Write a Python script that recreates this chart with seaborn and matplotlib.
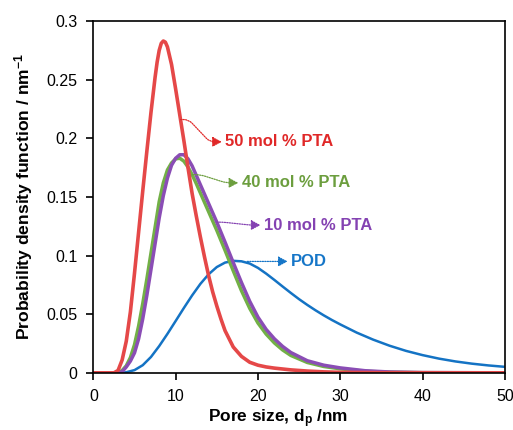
import matplotlib
matplotlib.use("Agg")
import matplotlib.pyplot as plt
import pandas as pd
import seaborn as sns

# Pore-size distributions (pore diameter in nm, probability density in nm^-1)
x_pod = [0, 3.5, 4.0, 5.0, 6.0, 7.0, 8.0, 9.0, 10.0, 11.0, 12.0, 13.0, 14.0, 15.0,
         16.0, 17.0, 18.0, 19.0, 20.0, 21.0, 22.0, 23.0, 24.0, 25.0, 26.0, 27.0,
         28.0, 29.0, 30.0, 32.0, 34.0, 36.0, 38.0, 40.0, 42.0, 44.0, 46.0, 48.0, 50.0]
pdf_pod = [0, 0, 0.0005, 0.0023, 0.0065, 0.0135, 0.0228, 0.0332, 0.0442, 0.0553,
           0.0660, 0.0758, 0.0840, 0.0902, 0.0940, 0.0955, 0.0951, 0.0932, 0.0895,
           0.0846, 0.0792, 0.0736, 0.0681, 0.0628, 0.0579, 0.0533, 0.0490, 0.0450,
           0.0413, 0.0343, 0.0283, 0.0231, 0.0187, 0.0151, 0.0121, 0.0097, 0.0078,
           0.0063, 0.0051]

x_pta40 = [0, 3.0, 3.5, 4.0, 4.5, 5.0, 5.5, 6.0, 6.5, 7.0, 7.5, 8.0, 8.5, 9.0, 9.5,
           10.0, 10.5, 11.0, 11.5, 12.0, 12.5, 13.0, 13.5, 14.0, 15.0, 16.0, 17.0,
           18.0, 19.0, 20.0, 21.0, 22.0, 23.0, 24.0, 26.0, 28.0, 30.0, 33.0, 36.0,
           40.0, 50.0]
pdf_pta40 = [0, 0, 0.002, 0.006, 0.013, 0.024, 0.040, 0.059, 0.080, 0.102, 0.124,
             0.146, 0.162, 0.173, 0.179, 0.1825, 0.183, 0.1805, 0.1755, 0.1690,
             0.1615, 0.1535, 0.1455, 0.1375, 0.1215, 0.1045, 0.0870, 0.0700, 0.0550,
             0.0425, 0.0330, 0.0255, 0.0195, 0.0148, 0.0088, 0.0054, 0.0034, 0.0013,
             0.0005, 0.0001, 0]

x_pta10 = [0, 3.0, 3.5, 4.0, 4.5, 5.0, 5.5, 6.0, 6.5, 7.0, 7.5, 8.0, 8.5, 9.0, 9.5,
           10.0, 10.5, 11.0, 11.5, 12.0, 12.5, 13.0, 13.5, 14.0, 15.0, 16.0, 17.0,
           18.0, 19.0, 20.0, 21.0, 22.0, 23.0, 24.0, 26.0, 28.0, 30.0, 33.0, 36.0,
           40.0, 50.0]
pdf_pta10 = [0, 0, 0.001, 0.005, 0.010, 0.017, 0.029, 0.046, 0.066, 0.088, 0.110,
             0.132, 0.151, 0.166, 0.177, 0.183, 0.186, 0.186, 0.1825, 0.1765,
             0.1685, 0.1605, 0.1525, 0.1445, 0.1285, 0.1115, 0.0940, 0.0770, 0.0610,
             0.0475, 0.0370, 0.0290, 0.0225, 0.0173, 0.0103, 0.0065, 0.0042, 0.0018,
             0.0007, 0.0002, 0]

x_pta50 = [0, 2.5, 3.0, 3.5, 4.0, 4.5, 5.0, 5.5, 6.0, 6.5, 7.0, 7.5, 7.75, 8.0, 8.25,
           8.5, 8.75, 9.0, 9.5, 10.0, 10.5, 11.0, 11.5, 12.0, 12.5, 13.0, 13.5, 14.0,
           14.5, 15.0, 15.5, 16.0, 16.5, 17.0, 18.0, 19.0, 20.0, 21.0, 22.0, 24.0,
           26.0, 28.0, 30.0, 35.0, 50.0]
pdf_pta50 = [0, 0, 0.002, 0.011, 0.027, 0.052, 0.085, 0.120, 0.155, 0.189, 0.222,
             0.252, 0.265, 0.275, 0.281, 0.283, 0.282, 0.278, 0.263, 0.242, 0.220,
             0.198, 0.175, 0.153, 0.134, 0.116, 0.099, 0.083, 0.069, 0.057, 0.046,
             0.036, 0.029, 0.022, 0.014, 0.009, 0.0065, 0.005, 0.004, 0.0025, 0.0015,
             0.0008, 0.0004, 0.0001, 0]

series_names = ["POD", "40 mol % PTA", "10 mol % PTA", "50 mol % PTA"]
line_colors = ["#1473C4", "#72B046", "#8A4DB5", "#E54848"]
text_colors = ["#1676C8", "#6C9E3E", "#8442B2", "#E02828"]
line_widths = [1.8, 2.5, 2.5, 2.6]

# Label placement: (curve point where the leader starts, arrow tip)
leader_start = [(18.7, 0.0950), (12.0, 0.169), (15.0, 0.1285), (10.6, 0.216)]
leader_tip = [(23.6, 0.0950), (17.6, 0.162), (20.3, 0.126), (15.6, 0.197)]
leader_arc = [None, (8, 12, 5), (6, 10, 4), (8, 12, 5)]

frames = []
for name, xs, ys in zip(series_names,
                        [x_pod, x_pta40, x_pta10, x_pta50],
                        [pdf_pod, pdf_pta40, pdf_pta10, pdf_pta50]):
    frames.append(pd.DataFrame({"pore": xs, "pdf": ys, "sample": name}))
data = pd.concat(frames, ignore_index=True)

sns.set_theme(style="white")
plt.rcParams["font.family"] = ["Liberation Sans", "DejaVu Sans"]
plt.rcParams["mathtext.fontset"] = "custom"
plt.rcParams["mathtext.rm"] = "Liberation Sans:bold"
plt.rcParams["mathtext.it"] = "Liberation Sans:bold"
plt.rcParams["mathtext.bf"] = "Liberation Sans:bold"

fig, ax = plt.subplots(figsize=(5.13, 4.30), dpi=100)
fig.subplots_adjust(left=0.182, right=0.984, bottom=0.133, top=0.951)

for name, col, lw in zip(series_names, line_colors, line_widths):
    sns.lineplot(data=data[data["sample"] == name], x="pore", y="pdf",
                 color=col, linewidth=lw, ax=ax, legend=False,
                 solid_joinstyle="round", solid_capstyle="butt")

for name, tcol, start, tip, arc in zip(series_names, text_colors,
                                       leader_start, leader_tip, leader_arc):
    if arc is None:
        conn = "arc3,rad=0"
    else:
        conn = "arc,angleA=0,angleB=180,armA=%g,armB=%g,rad=%g" % arc
    ax.annotate("", xy=tip, xytext=start,
                arrowprops=dict(arrowstyle="-|>,head_length=0.55,head_width=0.3",
                                color=tcol, lw=0.9, linestyle=(0, (1, 1)),
                                connectionstyle=conn, shrinkA=0, shrinkB=0,
                                mutation_scale=10))
    ax.text(tip[0] + 0.45, tip[1], name, color=tcol, fontsize=12,
            fontweight="bold", ha="left", va="center")

ax.set_xlim(0, 50)
ax.set_ylim(0, 0.3)
ax.set_xticks([0, 10, 20, 30, 40, 50])
ax.set_yticks([0, 0.05, 0.1, 0.15, 0.2, 0.25, 0.3])
ax.set_yticklabels(["0", "0.05", "0.1", "0.15", "0.2", "0.25", "0.3"])
ax.tick_params(axis="both", direction="out", length=5, width=1.2,
               colors="black", labelsize=11.5, pad=6.5, left=True, bottom=True)

for side in ["left", "right", "top", "bottom"]:
    ax.spines[side].set_visible(True)
    ax.spines[side].set_color("black")
    ax.spines[side].set_linewidth(1.2)

ax.set_xlabel("Pore size, d$_{p}$ /nm", fontsize=12.4, fontweight="bold",
              color="black")
ax.xaxis.set_label_coords(0.449, -0.098)
ax.set_ylabel("Probability density function / nm$^{-1}$", fontsize=12.6,
              fontweight="bold", color="black", labelpad=8)

fig.savefig("out.png", dpi=100, facecolor="white")
